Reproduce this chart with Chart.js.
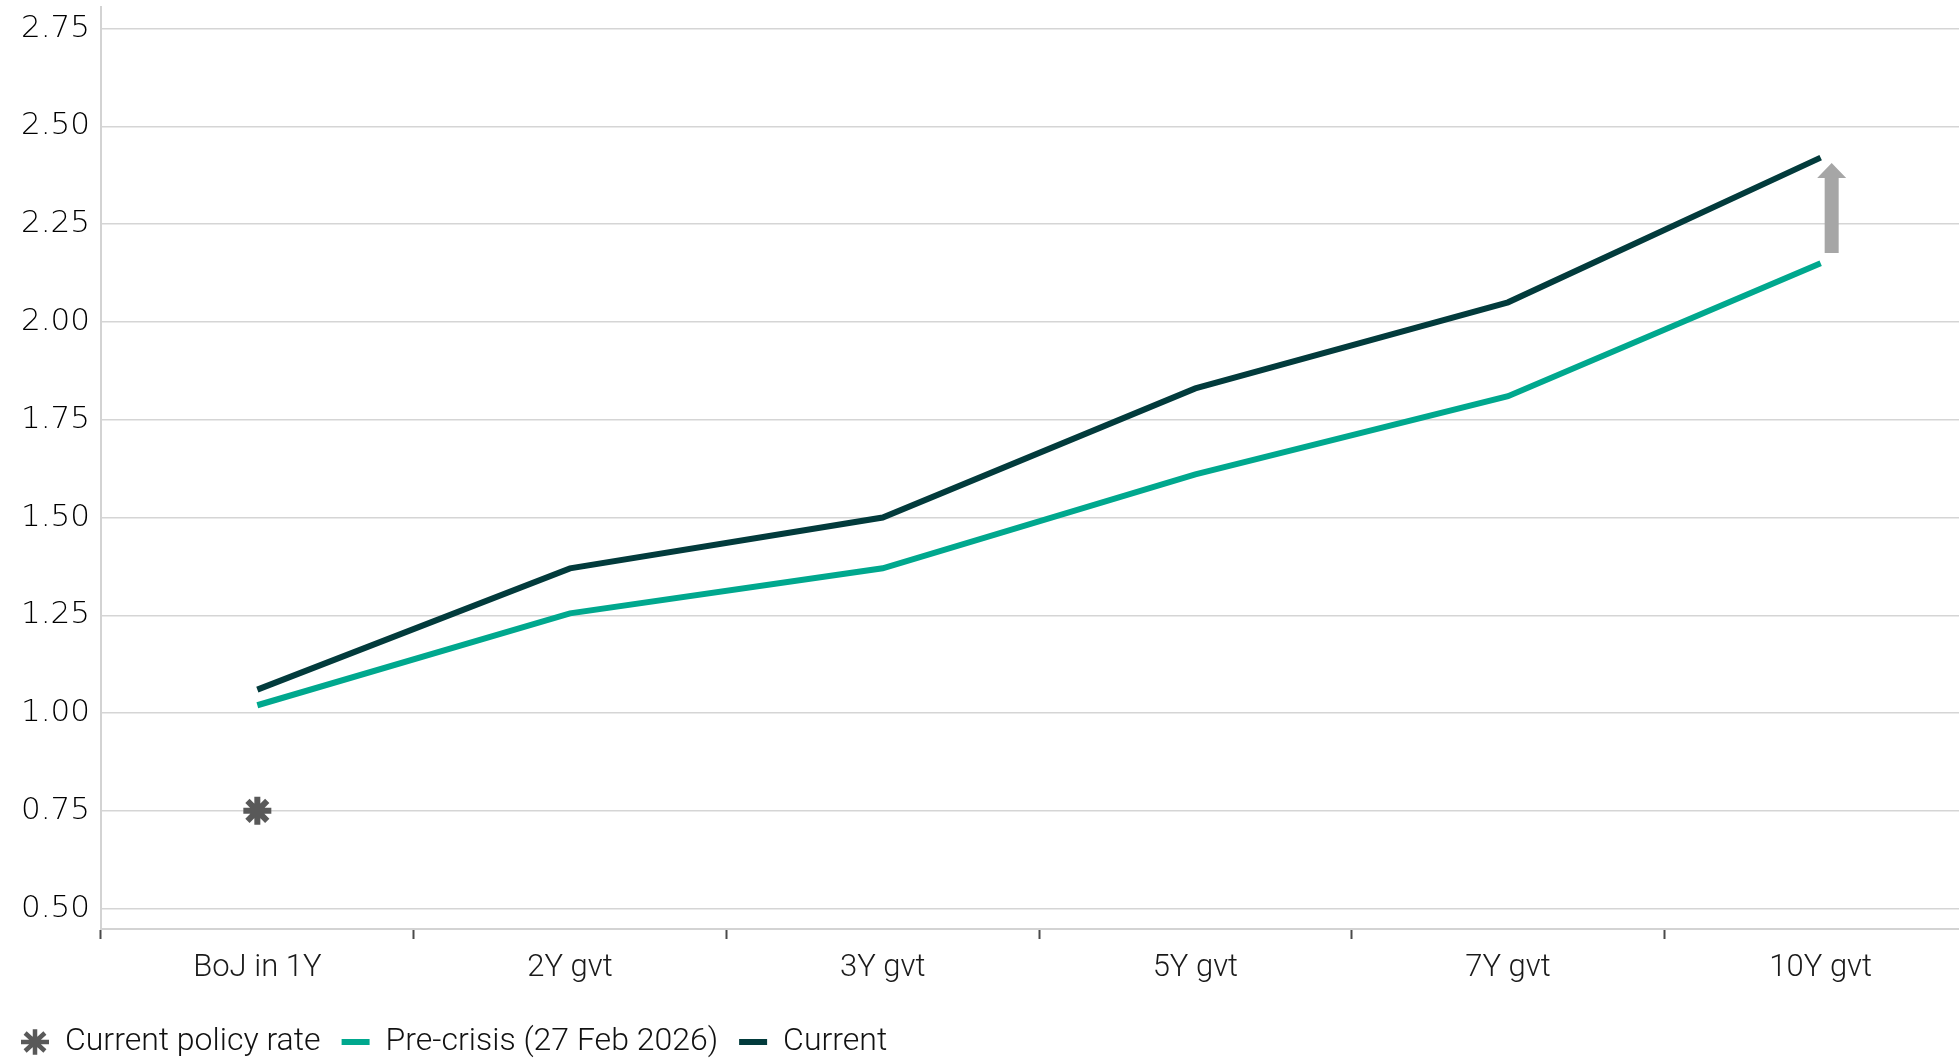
<!DOCTYPE html>
<html>
<head>
<meta charset="utf-8">
<script src="https://cdn.jsdelivr.net/npm/chart.js@4"></script>
<style>
  html, body { margin: 0; padding: 0; background: #fff; width: 1959px; height: 1058px; overflow: hidden; }
  #wrap { position: relative; width: 1959px; height: 1058px; overflow: hidden; }
  #curve { position: absolute; left: 0; top: 0; }
</style>
</head>
<body>
<div id="wrap"><canvas id="curve" width="1977" height="1068"></canvas></div>
<script>
// tenors on the x axis
const tenors = ['BoJ in 1Y', '2Y gvt', '3Y gvt', '5Y gvt', '7Y gvt', '10Y gvt'];
// yields, %
const policyRate = [0.75, null, null, null, null, null];
const preCrisis  = [1.02, 1.255, 1.37, 1.61, 1.81, 2.15];
const current    = [1.06, 1.37, 1.50, 1.83, 2.05, 2.42];
const yTicks = [0.50, 0.75, 1.00, 1.25, 1.50, 1.75, 2.00, 2.25, 2.50, 2.75];
// grey "moved up" arrow next to 10Y
const arrowAt = 5, arrowFrom = 2.176, arrowTo = 2.406;

const legendStyles = ['star', 'line', 'line'];
const legendWidths = [4.5, 6, 6];

const upArrow = {
  id: 'upArrow',
  afterDatasetsDraw(chart) {
    const {ctx, scales: {x, y}} = chart;
    const px = x.getPixelForValue(arrowAt) + 11;
    const yb = y.getPixelForValue(arrowFrom);
    const yt = y.getPixelForValue(arrowTo);
    const head = 15, shaft = 7, half = 14.5;
    ctx.save();
    ctx.fillStyle = '#a6a6a6';
    ctx.beginPath();
    ctx.moveTo(px - shaft, yb);
    ctx.lineTo(px - shaft, yt + head);
    ctx.lineTo(px - half, yt + head);
    ctx.lineTo(px, yt);
    ctx.lineTo(px + half, yt + head);
    ctx.lineTo(px + shaft, yt + head);
    ctx.lineTo(px + shaft, yb);
    ctx.closePath();
    ctx.fill();
    ctx.restore();
  }
};

new Chart(document.getElementById('curve'), {
  type: 'line',
  data: {
    labels: tenors,
    datasets: [
      {
        label: 'Current policy rate',
        data: policyRate,
        showLine: false,
        borderColor: '#595959',
        backgroundColor: '#595959',
        pointStyle: 'star',
        pointRadius: 14,
        pointBorderWidth: 6,
        pointHoverRadius: 14
      },
      {
        label: 'Pre-crisis (27 Feb 2026)',
        data: preCrisis,
        borderColor: '#00a88e',
        backgroundColor: '#00a88e',
        borderWidth: 6,
        pointRadius: 0,
        tension: 0
      },
      {
        label: 'Current',
        data: current,
        borderColor: '#023b3c',
        backgroundColor: '#023b3c',
        borderWidth: 6,
        pointRadius: 0,
        tension: 0
      }
    ]
  },
  options: {
    responsive: false,
    animation: false,
    layout: { autoPadding: false, padding: { top: 7, left: 0, right: 0, bottom: 0 } },
    plugins: {
      tooltip: { enabled: false },
      title: { display: false },
      legend: {
        position: 'bottom',
        align: 'start',
        labels: {
          usePointStyle: true,
          pointStyleWidth: 28,
          boxHeight: 18,
          padding: 21,
          color: '#111',
          font: { family: 'Roboto', size: 32, weight: 300 },
          generateLabels: chart => chart.data.datasets.map((ds, i) => ({
            text: ds.label,
            fillStyle: ds.borderColor,
            strokeStyle: ds.borderColor,
            lineWidth: legendWidths[i],
            pointStyle: legendStyles[i],
            hidden: false,
            datasetIndex: i,
            fontColor: '#111'
          }))
        }
      }
    },
    scales: {
      x: {
        offset: true,
        grid: {
          offset: true,
          drawOnChartArea: false,
          drawTicks: true,
          tickLength: 10,
          tickColor: '#4a4a4a',
          tickWidth: 2
        },
        border: { color: '#d3d3d3', width: 2 },
        ticks: {
          padding: 11,
          color: '#1a1a1a',
          font: { family: 'Roboto', size: 31, weight: 300 },
          maxRotation: 0
        },
        afterFit: s => { s.height = 76; s.paddingLeft = 0; s.paddingRight = 0; }
      },
      y: {
        min: 0.448,
        max: 2.805,
        afterBuildTicks: s => { s.ticks = yTicks.map(v => ({ value: v })); },
        afterFit: s => { s.width = 101; s.paddingTop = 0; s.paddingBottom = 0; },
        grid: { color: '#d5d5d5', lineWidth: 1.5, drawTicks: false },
        border: { color: '#d3d3d3', width: 2 },
        ticks: {
          padding: 11,
          color: '#000',
          font: { family: 'DejaVu Sans', size: 31, weight: 200 },
          callback: v => Number(v).toFixed(2)
        }
      }
    }
  },
  plugins: [upArrow]
});
</script>
</body>
</html>
